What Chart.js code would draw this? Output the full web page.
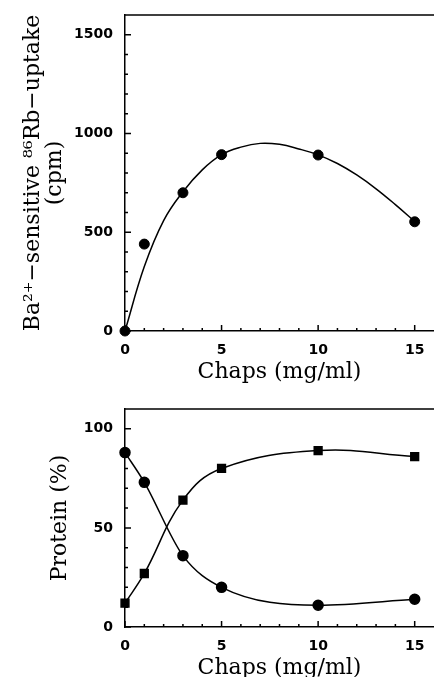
<!DOCTYPE html>
<html>
<head>
<meta charset="utf-8">
<script src="https://cdn.jsdelivr.net/npm/chart.js@4.4.0/dist/chart.umd.min.js"></script>
<style>
  html, body { margin: 0; padding: 0; background: #fff; overflow: hidden; }
  .wrap { position: absolute; left: 0; width: 434px; }
  #w1 { top: 0; height: 390px; }
  #w2 { top: 390px; height: 297px; }
</style>
</head>
<body>
<div class="wrap" id="w1"><canvas id="uptake"></canvas></div>
<div class="wrap" id="w2"><canvas id="protein"></canvas></div>
<script>
// concentrations (mg/ml)
const chaps = [0, 1, 3, 5, 10, 15];

// top panel: measured uptake (cpm)
const uptake = [0, 440, 700, 893, 891, 553];
// fitted curve
const fitX = [0, 1, 2, 3, 4, 5, 6, 7, 8, 9, 10, 11, 12, 13, 14, 15];
const fitY = [0, 326, 559, 705, 816, 893, 931, 950, 945, 922, 892, 848, 790, 720, 640, 555];

// bottom panel: protein (%)
const proteinSquares = [12, 27, 64, 80, 89, 86];
const proteinCircles = [88, 73, 36, 20, 11, 14];

const xMajor = [0, 5, 10, 15];
const yMajorTop = [0, 500, 1000, 1500];
const yMajorBottom = [0, 50, 100];

const tickFont = { family: 'DejaVu Sans', size: 14, weight: 'bold' };
const titleFont = { family: 'DejaVu Serif', size: 22, lineHeight: 1.0 };

function pts(xs, ys) {
  return xs.map((x, i) => ({ x: x, y: ys[i] }));
}

// inward tick marks + top frame line
const frameTicks = {
  id: 'frameTicks',
  afterDraw(chart, args, opts) {
    const c = chart.ctx;
    const a = chart.chartArea;
    const xs = chart.scales.x, ys = chart.scales.y;
    c.save();
    c.strokeStyle = '#000';
    c.lineWidth = 1.5;
    c.beginPath();
    c.moveTo(a.left, a.top);
    c.lineTo(a.right, a.top);
    for (let v = 0; v <= 15; v += 1) {
      const px = xs.getPixelForValue(v);
      const len = v % 5 === 0 ? 6 : 3;
      c.moveTo(px, a.bottom);
      c.lineTo(px, a.bottom - len);
    }
    for (let v = 0; v <= opts.yMax; v += opts.yMinor) {
      const py = ys.getPixelForValue(v);
      const len = v % opts.yMajor === 0 ? 6 : 3;
      c.moveTo(a.left, py);
      c.lineTo(a.left + len, py);
    }
    c.stroke();
    c.restore();
  }
};

function axes(yMax, yTicks, yTitle, yWidth, xHeight, xTitlePad, yTitlePad) {
  return {
    x: {
      type: 'linear',
      min: 0, max: 16,
      grid: { display: false },
      border: { color: '#000', width: 1.5 },
      afterBuildTicks: s => { s.ticks = xMajor.map(v => ({ value: v })); },
      afterFit: s => { s.height = xHeight; s.paddingLeft = 0; s.paddingRight = 0; },
      ticks: { color: '#000', font: tickFont, padding: 3, maxRotation: 0, callback: v => String(v) },
      title: { display: true, text: 'Chaps (mg/ml)', color: '#000', font: titleFont, padding: { top: 0, bottom: xTitlePad } }
    },
    y: {
      type: 'linear',
      min: 0, max: yMax,
      grid: { display: false },
      border: { color: '#000', width: 1.5 },
      afterBuildTicks: s => { s.ticks = yTicks.map(v => ({ value: v })); },
      afterFit: s => { s.width = yWidth; s.paddingTop = 0; s.paddingBottom = 0; },
      ticks: { color: '#000', font: tickFont, padding: 4, callback: v => String(v) },
      title: { display: true, text: yTitle, color: '#000', font: titleFont, padding: { top: yTitlePad, bottom: 0 } }
    }
  };
}

new Chart(document.getElementById('uptake'), {
  type: 'scatter',
  data: {
    datasets: [{
      label: 'fit',
      data: pts(fitX, fitY),
      showLine: true,
      tension: 0.4,
      borderColor: '#000',
      borderWidth: 1.5,
      pointRadius: 0
    }, {
      label: 'uptake',
      data: pts(chaps, uptake),
      showLine: false,
      clip: false,
      pointStyle: 'circle',
      pointRadius: 5,
      backgroundColor: '#000',
      borderColor: '#000'
    }]
  },
  options: {
    responsive: true,
    maintainAspectRatio: false,
    animation: false,
    layout: { autoPadding: false, padding: { top: 15, right: 0, left: 0, bottom: 0 } },
    plugins: {
      legend: { display: false },
      tooltip: { enabled: false },
      frameTicks: { yMax: 1600, yMinor: 100, yMajor: 500 }
    },
    scales: axes(1600, yMajorTop, ['Ba²⁺−sensitive ⁸⁶Rb−uptake', '(cpm)'], 125, 59, 7, 22)
  },
  plugins: [frameTicks]
});

new Chart(document.getElementById('protein'), {
  type: 'scatter',
  data: {
    datasets: [{
      label: 'squares',
      data: pts(chaps, proteinSquares),
      showLine: true,
      clip: false,
      tension: 0.4,
      borderColor: '#000',
      borderWidth: 1.5,
      pointStyle: 'rect',
      pointRadius: 5.5,
      backgroundColor: '#000'
    }, {
      label: 'circles',
      data: pts(chaps, proteinCircles),
      showLine: true,
      clip: false,
      cubicInterpolationMode: 'monotone',
      borderColor: '#000',
      borderWidth: 1.5,
      pointStyle: 'circle',
      pointRadius: 5,
      backgroundColor: '#000'
    }]
  },
  options: {
    responsive: true,
    maintainAspectRatio: false,
    animation: false,
    layout: { autoPadding: false, padding: { top: 19, right: 0, left: 0, bottom: 0 } },
    plugins: {
      legend: { display: false },
      tooltip: { enabled: false },
      frameTicks: { yMax: 110, yMinor: 10, yMajor: 50 }
    },
    scales: axes(110, yMajorBottom, 'Protein (%)', 125, 60, 8, 49)
  },
  plugins: [frameTicks]
});
</script>
</body>
</html>
